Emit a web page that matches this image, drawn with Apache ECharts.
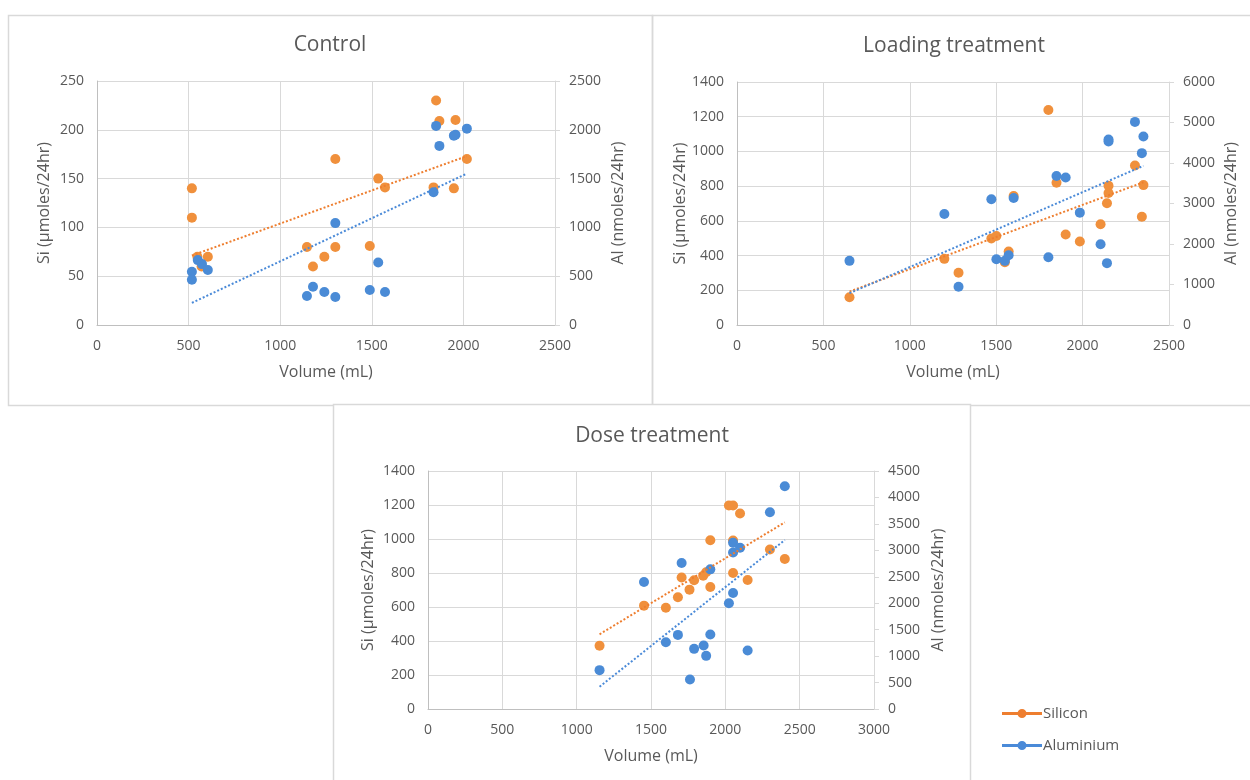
<!DOCTYPE html>
<html>
<head>
<meta charset="utf-8">
<script src="https://cdn.jsdelivr.net/npm/echarts@6/dist/echarts.min.js"></script>
<style>
  html, body { margin: 0; padding: 0; background: #ffffff; }
  #chart { width: 1250px; height: 780px; }
</style>
</head>
<body>
<div id="chart"></div>
<script>
// ---------- Data ----------
const chartTitles = ['Control', 'Loading treatment', 'Dose treatment'];
const seriesNames = ['Silicon', 'Aluminium'];
const xAxisName = 'Volume (mL)';
const siAxisName = 'Si (µmoles/24hr)';
const alAxisName = 'Al (nmoles/24hr)';

// Control
const ctrlSiX = [518, 518, 548, 571, 605, 1146, 1179, 1241, 1301, 1301, 1489, 1535, 1572, 1851, 1869, 1957, 1837, 1948, 2019];
const ctrlSiY = [140, 110, 70, 60, 70, 80, 60, 70, 170, 80, 81, 150, 141, 230, 209, 210, 141, 140, 170];
const ctrlAlX = [518, 518, 550, 573, 605, 1146, 1179, 1241, 1301, 1301, 1489, 1535, 1572, 1851, 1869, 1957, 1837, 1948, 2019];
const ctrlAlY = [546, 464, 665, 624, 563, 297, 392, 338, 287, 1044, 358, 641, 338, 2040, 1835, 1950, 1361, 1940, 2012];

// Loading treatment
const loadSiX = [651, 1200, 1282, 1472, 1501, 1572, 1550, 1601, 1802, 1849, 1902, 1984, 2104, 2141, 2150, 2150, 2303, 2352, 2343];
const loadSiY = [160, 381, 301, 498, 513, 423, 362, 743, 1239, 820, 521, 481, 580, 701, 760, 802, 919, 806, 624];
const loadAlX = [651, 1200, 1282, 1472, 1501, 1550, 1572, 1601, 1802, 1849, 1902, 1984, 2104, 2141, 2150, 2150, 2303, 2352, 2343];
const loadAlY = [1584, 2741, 944, 3103, 1625, 1584, 1724, 3136, 1675, 3677, 3644, 2774, 1994, 1527, 4531, 4580, 5015, 4654, 4243];

// Dose treatment
const doseSiX = [1154, 1453, 1600, 1681, 1706, 1759, 1790, 1851, 1871, 1899, 1899, 2024, 2052, 2099, 2052, 2052, 2150, 2300, 2400];
const doseSiY = [372, 608, 596, 657, 774, 702, 757, 784, 804, 993, 718, 1197, 1197, 1150, 991, 800, 759, 938, 882];
const doseAlX = [1154, 1453, 1600, 1681, 1706, 1762, 1790, 1854, 1871, 1899, 1899, 2024, 2052, 2052, 2052, 2099, 2150, 2300, 2400];
const doseAlY = [735, 2401, 1263, 1401, 2759, 559, 1137, 1200, 1005, 2640, 1408, 1998, 2193, 2960, 3143, 3048, 1106, 3720, 4211];

// Axis scales
const xMax = [2500, 2500, 3000];
const xStep = [500, 500, 500];
const siMax = [250, 1400, 1400];
const siStep = [50, 200, 200];
const alMax = [2500, 6000, 4500];
const alStep = [500, 1000, 500];

// ---------- Styling ----------
const ORANGE = '#F0903C';
const BLUE = '#4A8BD6';
const TXT = '#595959';
const FONT = 'Open Sans';
const GRID_C = '#d9d9d9';
const AXIS_C = '#bfbfbf';

const grids = [
  { left: 97, top: 81, width: 458, height: 244 },
  { left: 737, top: 82, width: 432, height: 243 },
  { left: 428, top: 471, width: 446, height: 238 }
];
const titleCenters = [[330, 35], [954, 36], [652, 426]];
const leftNameGap = [45, 49, 52];
const rightNameGap = [55, 54, 56];
const plain = v => String(v);

function zip(xs, ys) { return xs.map((x, i) => [x, ys[i]]); }
function trend(xs, ys) {
  const n = xs.length;
  const mx = xs.reduce((a, b) => a + b, 0) / n;
  const my = ys.reduce((a, b) => a + b, 0) / n;
  let sxy = 0, sxx = 0;
  for (let i = 0; i < n; i++) { sxy += (xs[i] - mx) * (ys[i] - my); sxx += (xs[i] - mx) ** 2; }
  const b = sxy / sxx, a = my - b * mx;
  const x0 = Math.min(...xs), x1 = Math.max(...xs);
  return [[x0, a + b * x0], [x1, a + b * x1]];
}

const sets = [
  [ctrlSiX, ctrlSiY, ctrlAlX, ctrlAlY],
  [loadSiX, loadSiY, loadAlX, loadAlY],
  [doseSiX, doseSiY, doseAlX, doseAlY]
];

const titles = [], xAxes = [], yAxes = [], series = [];
for (let i = 0; i < 3; i++) {
  titles.push({
    text: chartTitles[i], left: titleCenters[i][0], top: titleCenters[i][1], textAlign: 'center', padding: 0,
    textStyle: { fontFamily: FONT, fontSize: 21, fontWeight: 'normal', color: TXT }
  });
  xAxes.push({
    gridIndex: i, type: 'value', min: 0, max: xMax[i], interval: xStep[i],
    name: xAxisName, nameLocation: 'middle', nameGap: 39,
    nameTextStyle: { fontFamily: FONT, fontSize: 16, color: TXT },
    axisLine: { show: true, lineStyle: { color: AXIS_C, width: 1 } },
    axisTick: { show: false },
    axisLabel: { margin: 14, fontFamily: FONT, fontSize: 14, color: TXT, formatter: plain },
    splitLine: { show: true, lineStyle: { color: GRID_C, width: 1 } }
  });
  yAxes.push({
    gridIndex: i, type: 'value', position: 'left', min: 0, max: siMax[i], interval: siStep[i],
    name: siAxisName, nameLocation: 'middle', nameGap: leftNameGap[i],
    nameTextStyle: { fontFamily: FONT, fontSize: 16, color: TXT },
    axisLine: { show: true, lineStyle: { color: AXIS_C, width: 1 } },
    axisTick: { show: false },
    axisLabel: { margin: 13, fontFamily: FONT, fontSize: 14, color: TXT, formatter: plain },
    splitLine: { show: true, lineStyle: { color: GRID_C, width: 1 } }
  });
  yAxes.push({
    gridIndex: i, type: 'value', position: 'right', min: 0, max: alMax[i], interval: alStep[i],
    name: alAxisName, nameLocation: 'middle', nameGap: rightNameGap[i],
    nameTextStyle: { fontFamily: FONT, fontSize: 16, color: TXT },
    axisLine: { show: true, lineStyle: { color: GRID_C, width: 1 } },
    axisTick: { show: true, inside: false, length: 5, lineStyle: { color: GRID_C } },
    axisLabel: { margin: 14, fontFamily: FONT, fontSize: 14, color: TXT, formatter: plain },
    splitLine: { show: false }
  });

  const [sx, sy, ax, ay] = sets[i];
  series.push({
    name: seriesNames[0], type: 'scatter', xAxisIndex: i, yAxisIndex: 2 * i,
    data: zip(sx, sy), symbol: 'circle', symbolSize: 10,
    itemStyle: { color: ORANGE, opacity: 1 }, z: 2
  });
  series.push({
    name: seriesNames[1], type: 'scatter', xAxisIndex: i, yAxisIndex: 2 * i + 1,
    data: zip(ax, ay), symbol: 'circle', symbolSize: 10,
    itemStyle: { color: BLUE, opacity: 1 }, z: 3
  });
  series.push({
    name: seriesNames[0] + ' trend', type: 'line', xAxisIndex: i, yAxisIndex: 2 * i,
    data: trend(sx, sy), showSymbol: false, symbol: 'none', silent: true,
    lineStyle: { color: '#EE7E2F', width: 2, type: [2, 2] }, z: 4
  });
  series.push({
    name: seriesNames[1] + ' trend', type: 'line', xAxisIndex: i, yAxisIndex: 2 * i + 1,
    data: trend(ax, ay), showSymbol: false, symbol: 'none', silent: true,
    lineStyle: { color: '#4A8AD8', width: 2, type: [2, 2] }, z: 4
  });
}

const legendIcon = 'path://M0,3 L40,3 L40,6 L0,6 Z M15.5,4.5 A4.5,4.5 0 1 1 24.5,4.5 A4.5,4.5 0 1 1 15.5,4.5 Z';

const chart = echarts.init(document.getElementById('chart'), null, { renderer: 'canvas' });
chart.setOption({
  backgroundColor: '#ffffff',
  animation: false,
  title: titles,
  grid: grids,
  xAxis: xAxes,
  yAxis: yAxes,
  legend: {
    data: [
      { name: seriesNames[0], icon: legendIcon, itemStyle: { color: '#EE7E2F' } },
      { name: seriesNames[1], icon: legendIcon, itemStyle: { color: '#4A8AD8' } }
    ],
    orient: 'vertical', left: 1002, top: 706, padding: 0, itemWidth: 40, itemHeight: 10, itemGap: 17,
    textStyle: { fontFamily: FONT, fontSize: 15, color: TXT, padding: [0, 0, 0, -4] },
    selectedMode: false
  },
  graphic: [
    { type: 'rect', shape: { x: 8.5, y: 15.5, width: 644, height: 390 }, style: { fill: null, stroke: GRID_C, lineWidth: 1.5 }, silent: true, z: -10 },
    { type: 'rect', shape: { x: 652.5, y: 15.5, width: 610, height: 390 }, style: { fill: null, stroke: GRID_C, lineWidth: 1.5 }, silent: true, z: -10 },
    { type: 'rect', shape: { x: 333.5, y: 404.5, width: 637, height: 390 }, style: { fill: '#ffffff', stroke: GRID_C, lineWidth: 1.5 }, silent: true, z: -9 }
  ],
  series: series
});
</script>
</body>
</html>
